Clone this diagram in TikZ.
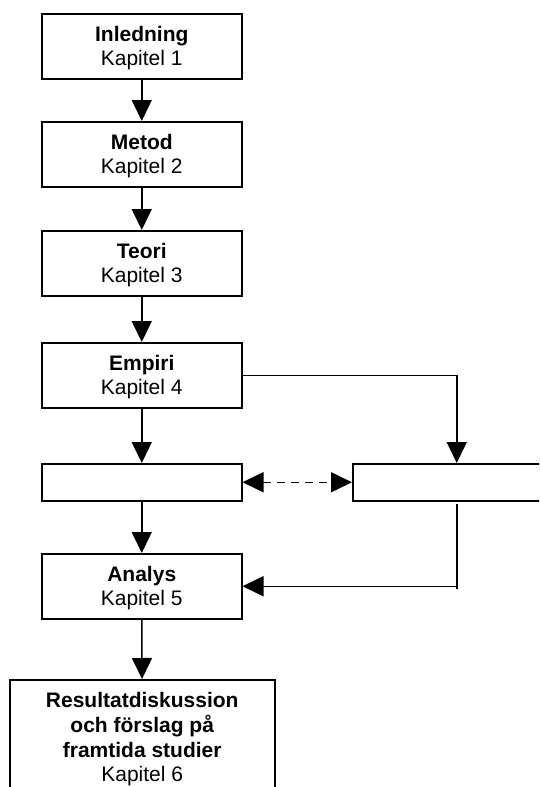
\documentclass[tikz,border=0pt]{standalone}
\usepackage{fontspec}
\setmainfont{Liberation Sans}
\usetikzlibrary{arrows.meta}
\begin{document}
\begin{tikzpicture}[x=1pt,y=-1pt,
  chapbox/.style={draw, line width=1.5pt, minimum width=200pt, minimum height=65pt,
    inner sep=0pt, anchor=north west},
  emptybox/.style={chapbox, minimum height=37pt},
  chaptext/.style={font=\fontsize{21}{24.5}\selectfont, align=center, inner sep=0pt,
    anchor=north},
  flow/.style={line width=1.5pt, -{Triangle[length=21pt,width=20pt]}},
  link/.style={line width=1.5pt, dash pattern=on 8pt off 6pt,
    {Triangle[length=21pt,width=20pt]}-{Triangle[length=21pt,width=20pt]}}
]
\useasboundingbox (0,0) rectangle (539,787);
\clip (0,0) rectangle (539,787);

% chapter boxes
\node[chapbox] (inl) at (41,13) {};
\node[chapbox] (met) at (41,121) {};
\node[chapbox] (teo) at (41,230) {};
\node[chapbox] (emp) at (41,342) {};
\node[emptybox] (lbox) at (41,463) {};
\node[emptybox, minimum width=208pt] (rbox) at (352,463) {};
\node[chapbox] (ana) at (41,553) {};
\node[chapbox, minimum width=265pt, minimum height=130pt] (res) at (9,679) {};

% box texts
\node[chaptext] (inl-t) at ([yshift=-10.85pt]inl.north) {\strut\textbf{Inledning}\\Kapitel 1};
\node[chaptext] (met-t) at ([yshift=-10.85pt]met.north) {\strut\textbf{Metod}\\Kapitel 2};
\node[chaptext] (teo-t) at ([yshift=-10.85pt]teo.north) {\strut\textbf{Teori}\\Kapitel 3};
\node[chaptext] (emp-t) at ([yshift=-10.85pt]emp.north) {\strut\textbf{Empiri}\\Kapitel 4};
\node[chaptext] (ana-t) at ([yshift=-10.85pt]ana.north) {\strut\textbf{Analys}\\Kapitel 5};
\node[chaptext] (res-t) at ([yshift=-10.85pt]res.north)
  {\strut\textbf{Resultatdiskussion}\\\textbf{och förslag på}\\\textbf{framtida studier}\\Kapitel 6};

% connectors
\draw[flow] (inl) -- (met);
\draw[flow] (met) -- (teo);
\draw[flow] (teo) -- (emp);
\draw[flow] (emp) -- (lbox);
\draw[flow] (lbox) -- (ana);
\draw[flow] (ana) -- (res);
\draw[flow] (emp.east) -| (rbox.north);
\draw[link] (lbox.east) -- (rbox.west);
\coordinate (rdrop) at ([yshift=-2pt]rbox.south);
\draw[line width=1.5pt] (rdrop) -- ([yshift=-85pt]rdrop);
\draw[flow] ([yshift=-83pt]rdrop) -- (rdrop |- ana.east) -- (ana.east);
\end{tikzpicture}
\end{document}
